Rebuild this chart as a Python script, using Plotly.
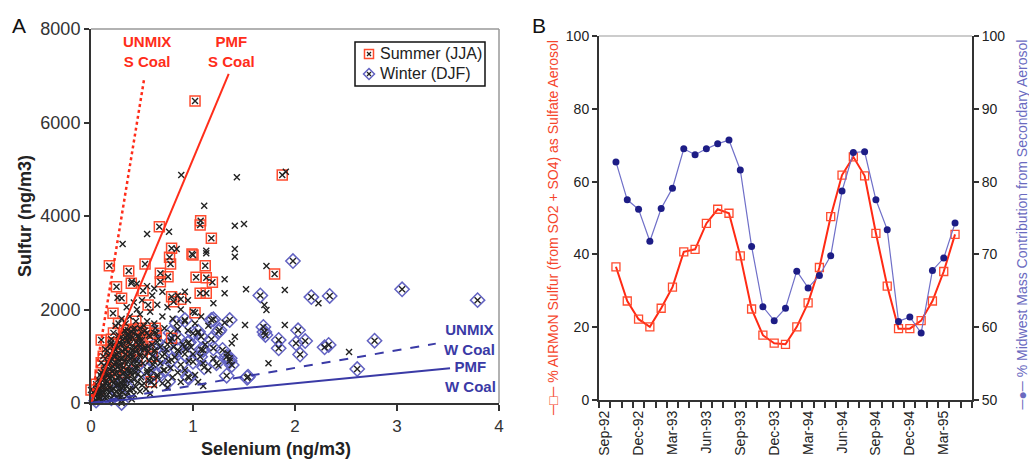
import plotly.graph_objects as go

W, H = 1029, 460
FONT = "Arial, Liberation Sans, sans-serif"


def fx(p):
    return p / W


def fy(p):
    return 1 - p / H


# ---- panel A: S vs Se, one pair per sample (Se ng/m3, S ng/m3) ----
summer_pts = [
    (1.02, 6460), (1.875, 4877), (0.67, 3771), (1.075, 3900), (1.07, 3807), (1.18, 3523),
    (0.79, 3309), (0.99, 3187), (0.77, 3116), (1.00, 3166), (0.18, 2937), (0.37, 2823),
    (0.53, 2973), (0.78, 2973), (0.68, 2774), (0.755, 2702), (0.68, 2595), (1.03, 2689),
    (1.12, 2937), (1.13, 2680), (1.19, 2582), (0.395, 2560), (0.25, 2488), (0.51, 2402),
    (0.30, 2240), (1.07, 2346), (1.13, 2350), (0.79, 2274), (0.81, 2167), (0.88, 2218),
    (0.216, 1919), (0.56, 2096), (1.02, 1932), (1.80, 2759), (0.10, 1348), (0.10, 862),
    (0.00, 278), (0.36, 1561), (0.48, 1598), (0.64, 1491), (0.79, 1384), (0.31, 1348),
    (0.20, 1362), (0.56, 1204), (0.41, 1134), (0.59, 456), (0.35, 1450), (0.42, 1500),
    (0.50, 1350), (0.25, 1050), (0.15, 700), (0.28, 800), (0.45, 900), (0.05, 400),
    (0.12, 1000), (0.38, 1250), (0.22, 1500), (0.60, 1000), (0.33, 650), (0.04, 150),
    (0.18, 550), (0.52, 1150), (0.27, 1700), (0.44, 1750), (0.63, 1600), (0.58, 1420),
    (0.196, 1290), (0.415, 1576), (0.546, 1491), (0.08, 300), (0.14, 420), (0.20, 950),
    (0.30, 1100), (0.22, 1250), (0.34, 1400), (0.46, 1450), (0.29, 950), (0.38, 1050),
    (0.16, 1120), (0.24, 720), (0.09, 600), (0.33, 1550), (0.53, 1550),
]

winter_pts = [
    (1.98, 3037), (3.05, 2432), (3.79, 2200), (2.16, 2265), (2.34, 2289), (1.66, 2300),
    (2.61, 727), (2.78, 1333), (2.33, 1241), (2.29, 1191), (2.03, 1555), (2.01, 1277),
    (2.10, 1326), (2.05, 1037), (1.84, 1348), (1.84, 1170), (1.69, 1626), (1.71, 1455),
    (1.70, 1520), (1.53, 541), (1.36, 1775), (1.33, 990), (1.36, 900), (1.33, 584),
    (1.18, 1775), (1.25, 1525), (1.20, 1790), (1.23, 849), (1.11, 763), (0.96, 541),
    (1.07, 990), (1.20, 1170), (1.08, 1140), (1.26, 1561), (1.08, 1419), (1.18, 1362),
    (1.29, 1134), (1.36, 956), (1.38, 813), (0.95, 563), (1.54, 563), (0.92, 1775),
    (1.05, 1525), (0.95, 1277), (0.79, 920), (0.72, 706), (1.10, 1134), (1.00, 1491),
    (0.85, 1134), (0.62, 884), (0.30, 0), (0.07, 107), (0.755, 456), (0.625, 1134),
    (0.84, 1704), (0.55, 700), (0.65, 1300), (0.70, 1000), (0.48, 1050), (0.58, 560),
    (0.88, 820), (0.92, 1050), (0.75, 1250), (0.45, 800), (0.40, 600), (0.35, 350),
    (0.65, 600), (0.78, 1500), (0.85, 1400), (0.50, 1250), (0.62, 1500), (0.96, 1300),
    (1.00, 880), (0.05, 50), (0.15, 150), (0.25, 250), (0.20, 100), (0.30, 400),
]

# spring / fall samples (plain x only)
other_pts = [
    (0.885, 4877), (1.43, 4828), (1.11, 4220), (1.41, 3792), (1.50, 3829), (0.55, 3615),
    (0.765, 3664), (0.31, 3401), (1.13, 3258), (1.41, 3294), (0.84, 3294), (1.72, 2930),
    (1.90, 2417), (2.23, 2133), (1.91, 4948), (1.72, 1989), (1.90, 1668), (1.74, 849),
    (2.53, 1091), (1.31, 2646), (1.41, 3130), (1.13, 3202), (1.70, 2096), (1.52, 2432),
    (1.20, 2133), (1.41, 1419), (1.31, 2346), (0.92, 2381), (1.31, 1718), (1.51, 1668),
    (1.10, 364), (1.38, 1277), (1.34, 1063),
    (0.40, 2600), (0.45, 2550), (0.55, 2500), (0.62, 2450), (0.70, 2380), (0.85, 2300),
    (0.95, 2200), (0.60, 2300), (0.50, 2200), (0.42, 2150), (0.35, 2050), (0.65, 2100),
    (0.75, 2050), (0.88, 2000), (1.00, 1950), (1.08, 1850), (0.58, 1950), (0.48, 1900),
    (0.38, 1850), (0.30, 1800), (0.70, 1850), (0.80, 1800), (0.92, 1750), (1.02, 1700),
    (1.15, 1650), (0.62, 1700), (0.52, 1650), (0.43, 1600), (0.33, 1550), (0.72, 1600),
    (0.85, 1580), (0.95, 1550), (1.05, 1500), (0.57, 1450), (0.47, 1400), (0.38, 1380),
    (0.28, 1300), (0.66, 1380), (0.78, 1320), (0.90, 1250), (1.12, 1250), (0.53, 1200),
    (0.43, 1180), (0.33, 1150), (0.22, 1100), (0.62, 1100), (0.72, 1050), (0.82, 980),
    (1.00, 1050), (0.48, 1000), (0.38, 950), (0.28, 900), (0.18, 850), (0.57, 900),
    (0.68, 850), (0.78, 750), (0.92, 700), (0.45, 750), (0.35, 700), (0.25, 650),
    (0.15, 600), (0.55, 650), (0.65, 550), (0.80, 550), (1.02, 600), (0.42, 500),
    (0.32, 480), (0.22, 420), (0.12, 380), (0.52, 420), (0.62, 380), (0.75, 330),
    (0.38, 300), (0.28, 250), (0.18, 220), (0.08, 200), (0.48, 250), (0.58, 200),
    (0.35, 150), (0.25, 120), (0.15, 90), (0.05, 60), (0.10, 30), (0.20, 40),
    (0.02, 20), (0.30, 60), (0.40, 80), (0.12, 150), (0.22, 300), (0.32, 350),
    (0.16, 450), (0.26, 550), (0.36, 600), (0.20, 750), (0.30, 800), (0.40, 850),
    (0.24, 1000), (0.34, 1050), (0.44, 1100), (0.27, 1200), (0.37, 1300), (0.50, 1500),
    (0.30, 1420), (0.40, 1520), (0.55, 1750), (0.34, 1700), (0.24, 1650), (0.45, 2000),
    (0.26, 2250), (0.14, 1150), (0.10, 650), (0.07, 500), (0.03, 250), (0.09, 100),
    (0.19, 320), (0.29, 450), (0.39, 650), (0.49, 550), (0.59, 700), (0.44, 350),
    (0.54, 300), (0.64, 950), (0.74, 1150), (0.86, 1100), (0.96, 900), (1.10, 850),
    (1.20, 950), (1.25, 800), (1.15, 700), (1.05, 450), (0.88, 450), (0.70, 420),
    (0.06, 180), (0.11, 260), (0.13, 520), (0.17, 380), (0.21, 560), (0.23, 820),
    (0.26, 940), (0.29, 700), (0.31, 620), (0.33, 900), (0.36, 1000), (0.39, 1150),
    (0.41, 980), (0.43, 760), (0.46, 620), (0.47, 1250), (0.51, 850), (0.53, 1000),
    (0.56, 1100), (0.60, 1250), (0.19, 1250), (0.17, 1020), (0.21, 680), (0.24, 480),
    (0.27, 380), (0.31, 230), (0.34, 500), (0.37, 780), (0.41, 1400), (0.44, 1300),
    (0.49, 1150), (0.27, 1450), (0.32, 1250), (0.35, 1350), (0.13, 800), (0.09, 420),
    (0.07, 300), (0.16, 300), (0.23, 200), (0.29, 120), (0.36, 220), (0.42, 180),
    (0.50, 380), (0.57, 480), (0.61, 820), (0.68, 1200), (0.71, 700), (0.76, 900),
    (0.81, 1200), (0.85, 650), (0.93, 1150), (0.98, 1200),
    (0.08, 140), (0.10, 210), (0.12, 330), (0.14, 250), (0.15, 480), (0.17, 600),
    (0.18, 720), (0.19, 900), (0.21, 470), (0.22, 1000), (0.23, 620), (0.24, 860),
    (0.25, 380), (0.26, 780), (0.27, 1080), (0.28, 560), (0.29, 1250), (0.30, 330),
    (0.31, 950), (0.32, 760), (0.33, 420), (0.34, 1150), (0.35, 560), (0.36, 880),
    (0.37, 1450), (0.38, 700), (0.39, 480), (0.40, 1050), (0.41, 300), (0.42, 920),
    (0.43, 640), (0.44, 1200), (0.46, 450), (0.47, 850), (0.48, 1350), (0.06, 260),
    (0.11, 540), (0.13, 680), (0.16, 880), (0.20, 280), (0.23, 1150), (0.28, 180),
]

# source profile lines (end points)
unmix_s_se, unmix_s_s = [0, 0.523], [0, 6960]
pmf_s_se, pmf_s_s = [0, 1.35], [0, 7040]
unmix_w_se, unmix_w_s = [0, 3.38], [0, 1270]
pmf_w_se, pmf_w_s = [0, 3.52], [0, 742]

# ---- panel B: monthly series ----
months = ["Sep-92", "Oct-92", "Nov-92", "Dec-92", "Jan-93", "Feb-93", "Mar-93", "Apr-93",
          "May-93", "Jun-93", "Jul-93", "Aug-93", "Sep-93", "Oct-93", "Nov-93", "Dec-93",
          "Jan-94", "Feb-94", "Mar-94", "Apr-94", "May-94", "Jun-94", "Jul-94", "Aug-94",
          "Sep-94", "Oct-94", "Nov-94", "Dec-94", "Jan-95", "Feb-95", "Mar-95", "Apr-95",
          "May-95"]
data_months = months[1:32]
airmon_pct = [36.6, 27.2, 22.2, 20.1, 25.2, 31.0, 40.7, 41.4, 48.5, 52.4, 51.3, 39.6,
              25.0, 17.8, 15.6, 15.3, 20.1, 26.7, 36.4, 50.4, 61.8, 66.8, 61.6, 45.8,
              31.3, 19.6, 19.6, 21.8, 27.2, 35.3, 45.5]
midwest_pct = [82.7, 77.5, 76.2, 71.8, 76.3, 79.1, 84.5, 83.7, 84.5, 85.2, 85.7, 81.6,
               71.1, 62.8, 60.9, 62.6, 67.7, 65.4, 67.1, 69.8, 78.7, 84.0, 84.1, 77.5,
               73.4, 60.8, 61.4, 59.2, 67.8, 69.5, 74.3]


def unzip(pts):
    return [p[0] for p in pts], [p[1] for p in pts]


sum_x, sum_y = unzip(summer_pts)
win_x, win_y = unzip(winter_pts)
oth_x, oth_y = unzip(other_pts)

RED = "#ff2d1a"
SQ_RED = "#ff4b2e"
DIA_BLUE = "#6262c2"
NAVY = "#3a3aa6"

fig = go.Figure()

fig.add_trace(go.Scatter(x=win_x, y=win_y, mode="markers",
                         marker=dict(symbol="diamond-open", size=11, color=DIA_BLUE,
                                     line=dict(width=1.5)),
                         cliponaxis=False, xaxis="x", yaxis="y"))
fig.add_trace(go.Scatter(x=sum_x, y=sum_y, mode="markers",
                         marker=dict(symbol="square-open", size=10, color=SQ_RED,
                                     line=dict(width=1.5)),
                         cliponaxis=False, xaxis="x", yaxis="y"))
fig.add_trace(go.Scatter(x=sum_x + win_x + oth_x, y=sum_y + win_y + oth_y, mode="markers",
                         marker=dict(symbol="x-thin-open", size=6, color="#222",
                                     line=dict(width=1.4, color="#222")),
                         cliponaxis=False, xaxis="x", yaxis="y"))

fig.add_trace(go.Scatter(x=unmix_s_se, y=unmix_s_s, mode="lines",
                         line=dict(color=RED, width=2.5, dash="dot")))
fig.add_trace(go.Scatter(x=pmf_s_se, y=pmf_s_s, mode="lines",
                         line=dict(color=RED, width=2)))
fig.add_trace(go.Scatter(x=unmix_w_se, y=unmix_w_s, mode="lines",
                         line=dict(color=NAVY, width=2, dash="dash")))
fig.add_trace(go.Scatter(x=pmf_w_se, y=pmf_w_s, mode="lines",
                         line=dict(color=NAVY, width=2)))

fig.add_trace(go.Scatter(x=data_months, y=airmon_pct, mode="lines+markers",
                         line=dict(color="#ff2a14", width=2),
                         marker=dict(symbol="square-open", size=8, color=SQ_RED,
                                     line=dict(width=1.3)),
                         xaxis="x2", yaxis="y2"))
fig.add_trace(go.Scatter(x=data_months, y=midwest_pct, mode="lines+markers",
                         line=dict(color="#6f6fc8", width=1.2),
                         marker=dict(symbol="circle", size=7, color="#1d1d86"),
                         xaxis="x2", yaxis="y3"))

axis_common = dict(showgrid=False, zeroline=False, showline=True, linecolor="#333",
                   linewidth=2, ticks="outside", tickcolor="#333", tickwidth=1.5,
                   automargin=False)
# extra tick-only axes so the panel B ticks cross the axis lines
inner_ticks = dict(showgrid=False, zeroline=False, showline=False, ticks="inside",
                   tickcolor="#333", tickwidth=1.5, ticklen=5, showticklabels=False,
                   automargin=False)
month_axis = dict(type="category", categoryorder="array", categoryarray=months,
                  range=[-0.5, 32.5], tickmode="array", tickvals=months,
                  tickson="boundaries")

fig.update_layout(
    width=W, height=H, margin=dict(l=0, r=0, t=0, b=0),
    paper_bgcolor="white", plot_bgcolor="white",
    font=dict(family=FONT, color="#222"),
    showlegend=False,
    xaxis=dict(domain=[fx(91), fx(499)], anchor="y", range=[0, 4], dtick=1, ticklen=6,
               ticklabelstandoff=1, tickfont=dict(size=17, color="#333"), **axis_common),
    yaxis=dict(domain=[fy(403), fy(29)], anchor="x", range=[0, 8000], dtick=2000, ticklen=5,
               tickfont=dict(size=18, color="#333"), **axis_common),
    xaxis2=dict(domain=[fx(599), fx(972)], anchor="y2",
                ticktext=[m if i % 3 == 0 else "" for i, m in enumerate(months)],
                tickangle=-90, ticklen=6, ticklabelstandoff=3,
                tickfont=dict(size=14, color="#222"), **month_axis, **axis_common),
    xaxis3=dict(overlaying="x2", anchor="y2", **month_axis, **inner_ticks),
    yaxis2=dict(domain=[fy(400), fy(36)], anchor="x2", range=[0, 100], dtick=20, ticklen=5,
                tickfont=dict(size=14, color="#222"), **axis_common),
    yaxis3=dict(overlaying="y2", anchor="x2", side="right", range=[50, 100], dtick=10,
                ticklen=5, tickfont=dict(size=14, color="#222"), **axis_common),
    yaxis4=dict(overlaying="y2", anchor="x2", side="left", range=[0, 100], dtick=20,
                **inner_ticks),
    yaxis5=dict(overlaying="y2", anchor="x2", side="right", range=[50, 100], dtick=10,
                **inner_ticks),
)

grey = dict(color="#999", width=1.5)
shapes = [
    dict(type="line", x0=fx(91), x1=fx(499), y0=fy(29), y1=fy(29), line=grey),
    dict(type="line", x0=fx(499), x1=fx(499), y0=fy(29), y1=fy(403), line=grey),
    dict(type="line", x0=fx(599), x1=fx(972), y0=fy(36), y1=fy(36),
         line=dict(color="#999", width=1.2)),
    # legend box and its two symbols
    dict(type="rect", x0=fx(355), x1=fx(485), y0=fy(86), y1=fy(42),
         line=dict(color="#111", width=1.5), fillcolor="white"),
    dict(type="rect", x0=fx(364.5), x1=fx(373.5), y0=fy(58.5), y1=fy(49.5),
         line=dict(color=SQ_RED, width=1.5)),
    dict(type="path", path="M %f %f L %f %f L %f %f L %f %f Z" % (
        fx(369), fy(68.5), fx(374.5), fy(74), fx(369), fy(79.5), fx(363.5), fy(74)),
        line=dict(color=DIA_BLUE, width=1.5)),
]
for cy in (54, 74):
    shapes.append(dict(type="line", x0=fx(367), x1=fx(371), y0=fy(cy - 2), y1=fy(cy + 2),
                       line=dict(color="#222", width=1.2)))
    shapes.append(dict(type="line", x0=fx(367), x1=fx(371), y0=fy(cy + 2), y1=fy(cy - 2),
                       line=dict(color="#222", width=1.2)))
for s in shapes:
    s.update(xref="paper", yref="paper")
fig.update_layout(shapes=shapes)


def note(text, x, y, size, color, bold=False, angle=0, xanchor="center", yanchor="middle"):
    if bold:
        text = "<b>" + text + "</b>"
    fig.add_annotation(text=text, x=fx(x), y=fy(y), xref="paper", yref="paper",
                       showarrow=False, textangle=angle, xanchor=xanchor, yanchor=yanchor,
                       font=dict(family=FONT, size=size, color=color))


note("A", 19, 25, 21, "#111")
note("B", 539, 25, 21, "#111")
note("Selenium (ng/m3)", 276, 449, 18, "#222", bold=True)
note("Sulfur (ng/m3)", 25, 216, 18, "#222", bold=True, angle=-90)
note("UNMIX<br>S Coal", 147, 51, 15, RED, bold=True)
note("PMF<br>S Coal", 231, 51, 15, RED, bold=True)
note("UNMIX<br>W Coal", 469, 339, 15, NAVY, bold=True)
note("PMF<br>W Coal", 470, 376, 15, NAVY, bold=True)
note("Summer (JJA)", 378, 54, 16, "#222", xanchor="left")
note("Winter (DJF)", 378, 74, 16, "#222", xanchor="left")
note("─□─ % AIRMoN Sulfur (from SO2 + SO4) as Sulfate Aerosol", 553, 38, 14, "#f5452c",
     angle=-90, yanchor="top")
note("─●─ % Midwest Mass Contribution from Secondary Aerosol", 1021, 38, 14, "#6a6abf",
     angle=-90, yanchor="top")

fig.write_html("out.html", config={"displayModeBar": False},
               post_script="document.body.style.margin='0';")
